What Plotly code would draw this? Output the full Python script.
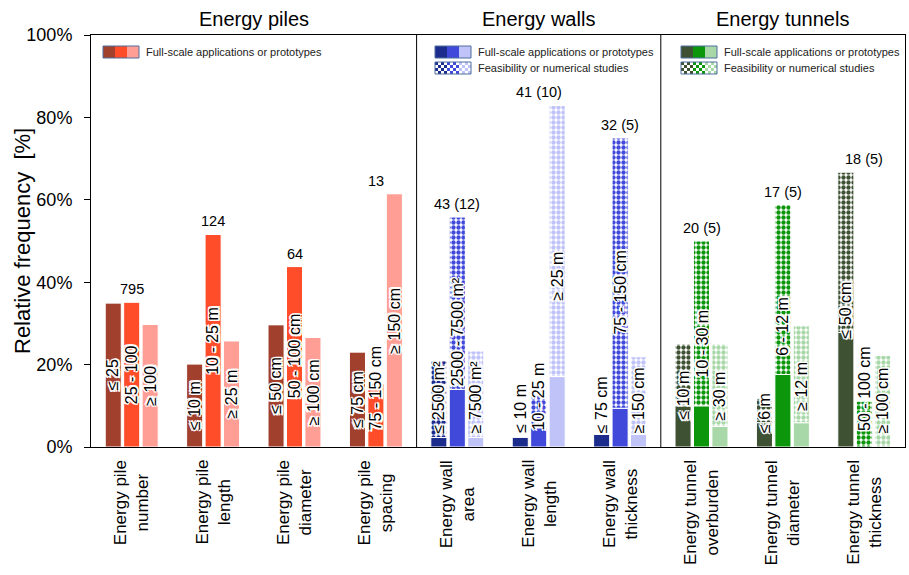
import plotly.graph_objects as go

# ---------------- data ----------------
categories = ["Energy pile<br>number", "Energy pile<br>length", "Energy pile<br>diameter",
              "Energy pile<br>spacing", "Energy wall<br>area", "Energy wall<br>length",
              "Energy wall<br>thickness", "Energy tunnel<br>overburden",
              "Energy tunnel<br>diameter", "Energy tunnel<br>thickness"]
group_titles = ["Energy piles", "Energy walls", "Energy tunnels"]
group_sizes = [4, 3, 3]
count_labels = ["795", "124", "64", "13", "43 (12)", "41 (10)", "32 (5)",
                "20 (5)", "17 (5)", "18 (5)"]

# full-scale applications or prototypes (%)
full_low = [35.0, 20.2, 29.7, 23.1, 2.3, 2.4, 3.1, 10.0, 5.9, 27.8]
full_mid = [35.2, 51.6, 43.8, 15.4, 14.0, 4.9, 9.4, 10.0, 17.6, 0.0]
full_high = [29.8, 25.8, 26.6, 61.5, 2.3, 17.1, 3.1, 5.0, 5.9, 0.0]
# feasibility or numerical studies (%)
study_low = [0, 0, 0, 0, 18.6, 0.0, 0.0, 15.0, 5.9, 38.9]
study_mid = [0, 0, 0, 0, 41.8, 9.7, 65.6, 40.0, 41.2, 11.1]
study_high = [0, 0, 0, 0, 21.0, 65.8, 18.8, 20.0, 23.5, 22.2]

labels_low = ["≤ 25", "≤ 10 m", "≤ 50 cm", "≤ 75 cm", "≤ 2500 m²", "≤ 10 m",
              "≤ 75 cm", "≤ 10 m", "≤ 6 m", "≤ 50 cm"]
labels_mid = ["25 - 100", "10 - 25 m", "50 - 100 cm", "75 - 150 cm", "2500 - 7500 m²",
              "10 - 25 m", "75 - 150 cm", "10 - 30 m", "6 - 12 m", "50 - 100 cm"]
labels_high = ["≥ 100", "≥ 25 m", "≥ 100 cm", "≥ 150 cm", "≥ 7500 m²", "≥ 25 m",
               "≥ 150 cm", "≥ 30 m", "≥ 12 m", "≥ 100 cm"]

y_ticks = [0, 20, 40, 60, 80, 100]
y_tick_text = ["0%", "20%", "40%", "60%", "80%", "100%"]
legend_full = "Full-scale applications or prototypes"
legend_study = "Feasibility or numerical studies"

# ---------------- styles ----------------
palettes = [["#A2402E", "#FF4D2A", "#FF9E95"],
            ["#1B2C8C", "#4049D9", "#BFC3F8"],
            ["#3E5233", "#0C960C", "#A8D8A8"]]
FONT = "Arial, Liberation Sans, Helvetica, sans-serif"
W, H = 909, 575
L, R, T, B = 91, 4, 35, 128
PW, PH = W - L - R, H - T - B
BARGAP, BARGROUPGAP = 0.32, 0.13

group_of = []
for g, n in enumerate(group_sizes):
    group_of += [g] * n

fulls = [full_low, full_mid, full_high]
studies = [study_low, study_mid, study_high]
labels = [labels_low, labels_mid, labels_high]

fig = go.Figure()
for k in range(3):
    cols = [palettes[g][k] for g in group_of]
    fig.add_trace(go.Bar(
        x=list(range(len(categories))), y=fulls[k], offsetgroup=str(k),
        marker=dict(color=cols, line=dict(color="white", width=1)),
        showlegend=False, hoverinfo="skip"))
    fig.add_trace(go.Bar(
        x=list(range(len(categories))), y=studies[k], base=fulls[k], offsetgroup=str(k),
        marker=dict(color=cols, line=dict(color="white", width=1),
                    pattern=dict(shape=".", size=5, solidity=0.6,
                                 fillmode="replace", bgcolor="white")),
        showlegend=False, hoverinfo="skip"))

ann = []
slot = (1 - BARGAP) / 3
px_per_pct = PH / 100.0
halo_offsets = [(dx, dy) for dx in (-1.5, 0, 1.5) for dy in (-1.5, 0, 1.5) if (dx, dy) != (0, 0)]
for i in range(len(categories)):
    tops = []
    for k in range(3):
        total = fulls[k][i] + studies[k][i]
        tops.append(total)
        half = len(labels[k][i]) * 8.0 / 2 / px_per_pct
        yc = max(total / 2, half + 3.5)
        base = dict(x=i + (k - 1) * slot, y=yc, xref="x", yref="y",
                    text=labels[k][i], textangle=-90, showarrow=False,
                    xanchor="center", yanchor="middle")
        for dx, dy in halo_offsets:
            ann.append(dict(base, xshift=dx, yshift=dy,
                            font=dict(family=FONT, size=16, color="white")))
        ann.append(dict(base, font=dict(family=FONT, size=16, color="black")))
    ann.append(dict(x=i, y=max(tops), xref="x", yref="y", text=count_labels[i],
                    showarrow=False, yanchor="bottom", yshift=3,
                    font=dict(family=FONT, size=14.5, color="black")))
    ann.append(dict(x=i, y=0, xref="x", yref="paper", text=categories[i],
                    textangle=-90, showarrow=False, yanchor="top", xanchor="center",
                    yshift=-11, align="center",
                    font=dict(family=FONT, size=17, color="black")))

shapes = []
start = -0.5
for g, n in enumerate(group_sizes):
    end = start + n
    ann.append(dict(x=(start + end) / 2, y=1, xref="x", yref="paper", text=group_titles[g],
                    showarrow=False, yanchor="middle", yshift=16,
                    font=dict(family=FONT, size=20, color="black")))
    if g < len(group_sizes) - 1:
        shapes.append(dict(type="line", x0=end, x1=end, y0=0, y1=1, xref="x", yref="paper",
                           line=dict(color="black", width=1)))
    start = end

ann.append(dict(x=(22 - L) / PW, y=0.5, xref="paper", yref="paper",
                text="Relative frequency  [%]", textangle=-90, showarrow=False,
                xanchor="center", yanchor="middle",
                font=dict(family=FONT, size=22, color="black")))

# legend swatches (drawn in pixel space)
def pxx(p):
    return (p - L) / PW

def pxy(p):
    return (H - B - p) / PH

legend_left = [103, 435, 681]
for g in range(3):
    x0 = legend_left[g]
    rows = [legend_full] if g == 0 else [legend_full, legend_study]
    for r, txt in enumerate(rows):
        y0 = 46 + r * 16
        for j in range(3):
            if r == 0:
                shapes.append(dict(type="rect", xref="paper", yref="paper",
                                   x0=pxx(x0 + 12 * j), x1=pxx(x0 + 12 * (j + 1)),
                                   y0=pxy(y0 + 12), y1=pxy(y0),
                                   fillcolor=palettes[g][j], line=dict(width=0)))
            else:
                for cy in range(4):
                    for cx in range(4):
                        if (cx + cy) % 2 == 0:
                            shapes.append(dict(type="rect", xref="paper", yref="paper",
                                               x0=pxx(x0 + 12 * j + 3 * cx),
                                               x1=pxx(x0 + 12 * j + 3 * cx + 3),
                                               y0=pxy(y0 + 3 * cy + 3), y1=pxy(y0 + 3 * cy),
                                               fillcolor=palettes[g][j], line=dict(width=0)))
        shapes.append(dict(type="rect", xref="paper", yref="paper",
                           x0=pxx(x0), x1=pxx(x0 + 36), y0=pxy(y0 + 12), y1=pxy(y0),
                           line=dict(color="#4F6E9E", width=1)))
        ann.append(dict(x=pxx(x0 + 41), y=pxy(y0 + 6), xref="paper", yref="paper",
                        text=txt, showarrow=False, xanchor="left", yanchor="middle",
                        font=dict(family=FONT, size=11, color="#222222")))

fig.update_layout(
    width=W, height=H, autosize=False,
    margin=dict(l=L, r=R, t=T, b=B, pad=0),
    paper_bgcolor="white", plot_bgcolor="white",
    barmode="group", bargap=BARGAP, bargroupgap=BARGROUPGAP,
    font=dict(family=FONT, color="black"),
    annotations=ann, shapes=shapes,
    xaxis=dict(range=[-0.5, len(categories) - 0.5], showticklabels=False, ticks="",
               showgrid=False, zeroline=False, showline=True, mirror=True,
               linecolor="black", linewidth=1),
    yaxis=dict(range=[0, 100], tickvals=y_ticks, ticktext=y_tick_text, ticks="outside",
               ticklen=6, tickcolor="black", tickfont=dict(size=18, color="black"),
               showgrid=False, zeroline=False, showline=True, mirror=True,
               linecolor="black", linewidth=1, ticklabelstandoff=8),
)

fig.write_html("out.html", config={"displayModeBar": False},
               post_script="document.body.style.margin='0';")
